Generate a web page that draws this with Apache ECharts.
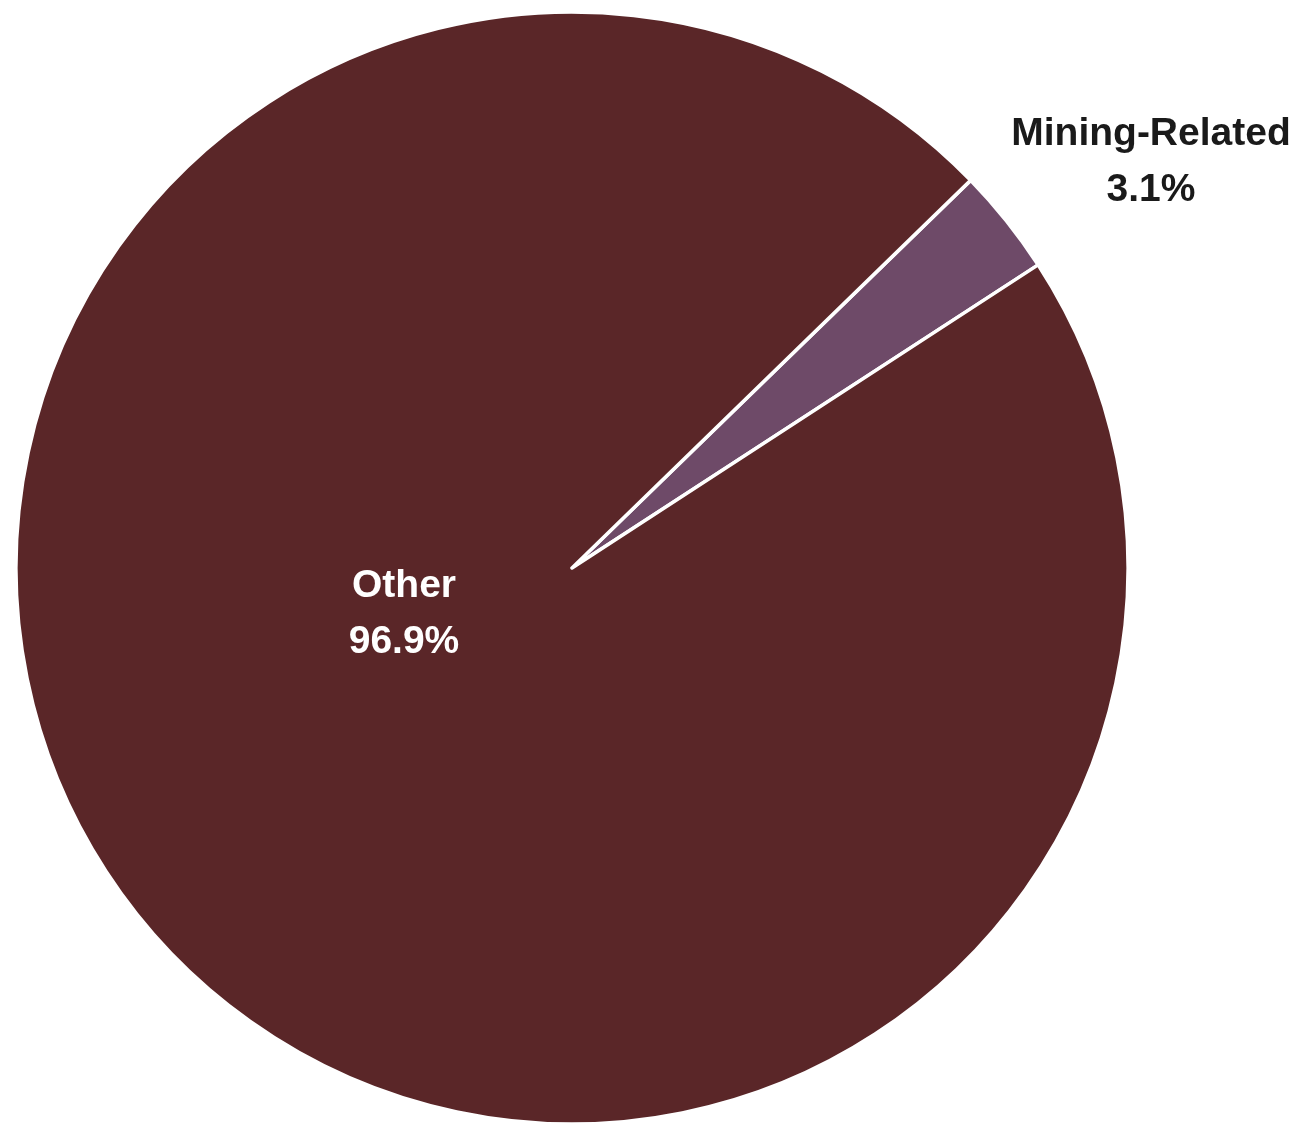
<!DOCTYPE html>
<html>
<head>
<meta charset="utf-8">
<script src="https://cdn.jsdelivr.net/npm/echarts@6/dist/echarts.min.js"></script>
<style>
html,body{margin:0;padding:0;background:#fff;}
#chart{width:1299px;height:1125px;}
</style>
</head>
<body>
<div id="chart"></div>
<script>
const categories = ['Mining-Related', 'Other'];
const values = [3.1, 96.9];
const colors = ['#6E4A68', '#5A2628'];
const labelColors = ['#1a1a1a', '#ffffff'];
// label anchor positions (text block centres)
const labelPos = [[1151, 162], [404, 614]];

const chart = echarts.init(document.getElementById('chart'), null, {renderer: 'canvas'});
chart.setOption({
  animation: false,
  series: [{
    type: 'pie',
    center: [572, 568],
    radius: 556,
    startAngle: 44.2,
    clockwise: true,
    avoidLabelOverlap: false,
    itemStyle: {borderColor: '#ffffff', borderWidth: 3.5},
    label: {
      show: true,
      position: 'inside',
      fontFamily: '"Liberation Sans", Arial, sans-serif',
      fontWeight: 'bold',
      fontSize: 39,
      lineHeight: 56,
      align: 'center',
      formatter: p => p.name + '\n' + p.value.toFixed(1) + '%'
    },
    labelLine: {show: false},
    labelLayout: p => ({
      x: labelPos[p.dataIndex][0],
      y: labelPos[p.dataIndex][1],
      align: 'center',
      verticalAlign: 'middle'
    }),
    emphasis: {disabled: true},
    data: categories.map((c, i) => ({
      name: c,
      value: values[i],
      itemStyle: {color: colors[i]},
      label: {color: labelColors[i]}
    }))
  }]
});
</script>
</body>
</html>
